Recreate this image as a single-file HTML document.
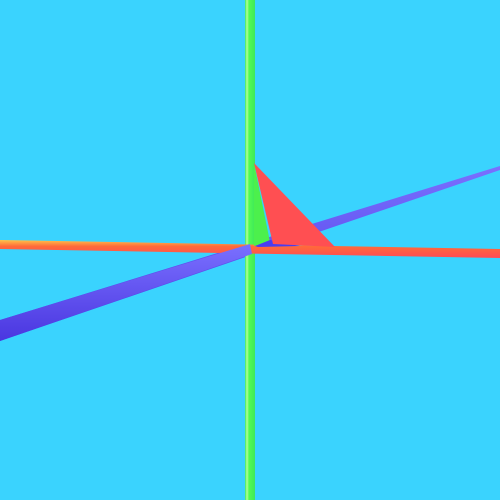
<!DOCTYPE html>
<html><head><meta charset="utf-8"><style>
html,body{margin:0;padding:0;background:#3ad3fe;}
svg{display:block}
</style></head><body>
<svg width="500" height="500" viewBox="0 0 500 500">
  <defs>
    <linearGradient id="gy" x1="0" x2="1" y1="0" y2="0">
      <stop offset="0" stop-color="#3ee85a"/>
      <stop offset="0.2" stop-color="#b6ff9a"/>
      <stop offset="0.4" stop-color="#52fb52"/>
      <stop offset="1" stop-color="#3ee85a"/>
    </linearGradient>
    <linearGradient id="gx" x1="0" x2="0" y1="0" y2="1">
      <stop offset="0" stop-color="#ffc44a"/>
      <stop offset="0.35" stop-color="#ff6a3a"/>
      <stop offset="1" stop-color="#ff4a55"/>
    </linearGradient>
    <linearGradient id="gz" x1="0" x2="0" y1="0" y2="1">
      <stop offset="0" stop-color="#7a70ff"/>
      <stop offset="1" stop-color="#4a36e0"/>
    </linearGradient>
  </defs>
  <rect width="500" height="500" fill="#3ad3fe"/>
  <polygon points="0,320 500,166 500,170 0,341" fill="url(#gz)"/>
  <rect x="245" y="0" width="10" height="500" fill="url(#gy)"/>
  <polygon points="0,240 500,249 500,258 0,249" fill="url(#gx)"/>
  <polygon points="254,163 270,242 254,246" fill="#4cf04c"/>
  <polygon points="255,246 270,240 300,246 258,247" fill="#4a3ef0"/>
  <polygon points="254,163 335,247 273,244" fill="#ff4f52"/>
  <polygon points="0,320 250,244 252,254 0,341" fill="url(#gz)"/>
</svg>
</body></html>
